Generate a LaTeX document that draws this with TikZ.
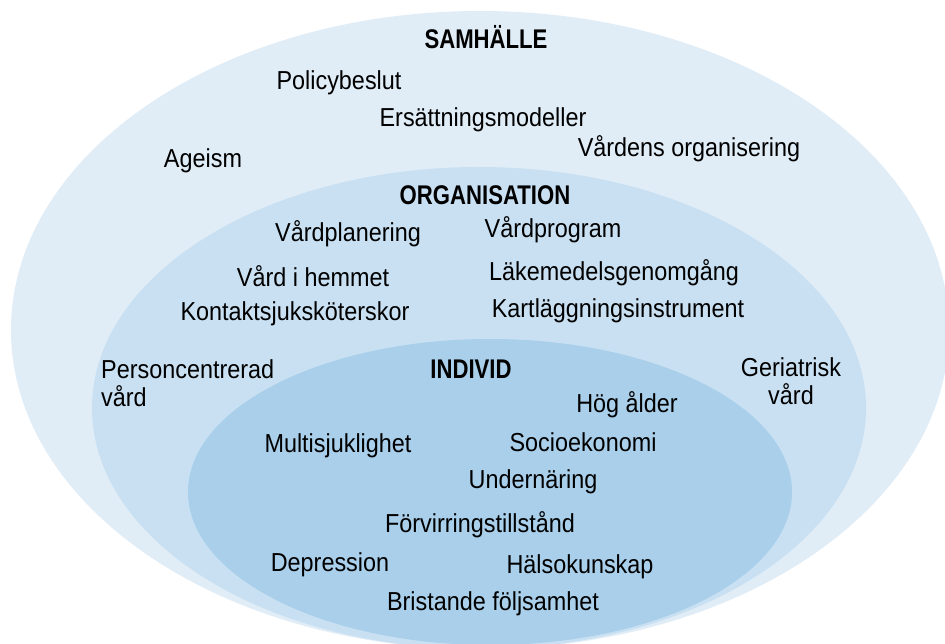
\documentclass[tikz,border=0pt]{standalone}
\usepackage{fontspec}
\setmainfont[FakeStretch=0.9]{Liberation Sans}
\newfontfamily\headfont[FakeStretch=0.82]{Liberation Sans Bold}
\definecolor{ringout}{HTML}{E0EDF7}
\definecolor{ringmid}{HTML}{C8E0F2}
\definecolor{ringin}{HTML}{A9CFEB}
\begin{document}
\begin{tikzpicture}[x=1pt,y=-1pt,
  item/.style={anchor=base,inner sep=0pt,font=\fontsize{26}{28.5}\selectfont},
  head/.style={anchor=base,inner sep=0pt,font=\headfont\fontsize{27}{28}\selectfont},
  multi/.style={item,align=#1}]
\useasboundingbox (0,0) rectangle (945,644);
\fill[white] (0,0) rectangle (945,644);
\begin{scope}
\clip (0,0) rectangle (945,644);
\fill[ringout] (480,330) ellipse [x radius=469, y radius=319];
\fill[ringmid] (479,408) ellipse [x radius=387, y radius=241];
\fill[ringin] (490,492) ellipse [x radius=302, y radius=153];
\end{scope}
% society level
\node[head] (samhalle) at (486,49) {SAMHÄLLE};
\node[item] (policy) at (339,89.5) {Policybeslut};
\node[item] (ersatt) at (483,126.5) {Ersättningsmodeller};
\node[item] (vardorg) at (689,157) {Vårdens organisering};
\node[item] (ageism) at (203,167.5) {Ageism};
% organisation level
\node[head] (organisation) at (485,205) {ORGANISATION};
\node[item] (vardplan) at (348,241.5) {Vårdplanering};
\node[item] (vardprog) at (553,238) {Vårdprogram};
\node[item] (hemmet) at (313,286.5) {Vård i hemmet};
\node[item] (lakemedel) at (614,280.5) {Läkemedelsgenomgång};
\node[item] (kontakt) at (295,320) {Kontaktsjuksköterskor};
\node[item] (kartl) at (618,317) {Kartläggningsinstrument};
% two-line labels: the base anchor sits on the last line
\node[multi=left,anchor=base west] (person) at (101,406.5) {Personcentrerad\\vård};
\node[multi=center] (geriatrisk) at (791,404.5) {Geriatrisk\\vård};
% individual level
\node[head] (individ) at (471,378) {INDIVID};
\node[item] (hog) at (627,412) {Hög ålder};
\node[item] (multi) at (338,452) {Multisjuklighet};
\node[item] (socio) at (583,451) {Socioekonomi};
\node[item] (under) at (533,488) {Undernäring};
\node[item] (forvirr) at (480,532.5) {Förvirringstillstånd};
\node[item] (depr) at (330,571) {Depression};
\node[item] (halso) at (580,573) {Hälsokunskap};
\node[item] (brist) at (493,610.5) {Bristande följsamhet};
\end{tikzpicture}
\end{document}
